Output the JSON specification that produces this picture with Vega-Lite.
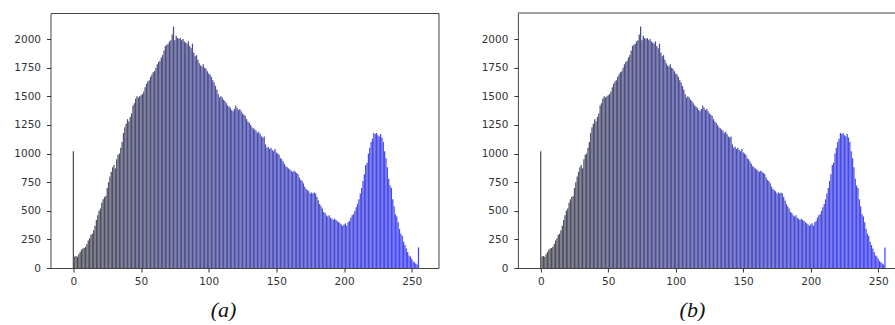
{
  "$schema": "https://vega.github.io/schema/vega-lite/v6.json",
  "padding": {"left": 12.5, "top": 12, "right": 0, "bottom": 0},
  "background": "white",
  "config": {
    "view": {"stroke": "#444", "strokeWidth": 1},
    "axis": {"grid": false, "domain": false, "format": "d", "labelOverlap": false, "tickColor": "#333", "tickSize": 4, "tickWidth": 1, "labelColor": "#333", "labelFont": "DejaVu Sans", "labelFontSize": 10.5, "titleFont": "Liberation Serif", "titleFontStyle": "italic", "titleFontWeight": "normal", "titleFontSize": 22, "titleColor": "#111"}
  },
  "datasets": {
    "hist": [
      {"level":0,"count":1020},{"level":1,"count":100},{"level":2,"count":105},{"level":3,"count":98},{"level":4,"count":120},{"level":5,"count":140},{"level":6,"count":160},{"level":7,"count":170},{"level":8,"count":175},{"level":9,"count":185},
      {"level":10,"count":210},{"level":11,"count":240},{"level":12,"count":260},{"level":13,"count":290},{"level":14,"count":300},{"level":15,"count":330},{"level":16,"count":370},{"level":17,"count":420},{"level":18,"count":460},{"level":19,"count":500},
      {"level":20,"count":520},{"level":21,"count":570},{"level":22,"count":600},{"level":23,"count":620},{"level":24,"count":630},{"level":25,"count":700},{"level":26,"count":750},{"level":27,"count":800},{"level":28,"count":840},{"level":29,"count":880},
      {"level":30,"count":900},{"level":31,"count":870},{"level":32,"count":950},{"level":33,"count":990},{"level":34,"count":1000},{"level":35,"count":1050},{"level":36,"count":1100},{"level":37,"count":1180},{"level":38,"count":1230},{"level":39,"count":1260},
      {"level":40,"count":1300},{"level":41,"count":1280},{"level":42,"count":1320},{"level":43,"count":1350},{"level":44,"count":1420},{"level":45,"count":1440},{"level":46,"count":1480},{"level":47,"count":1500},{"level":48,"count":1490},{"level":49,"count":1500},
      {"level":50,"count":1510},{"level":51,"count":1520},{"level":52,"count":1540},{"level":53,"count":1580},{"level":54,"count":1610},{"level":55,"count":1630},{"level":56,"count":1640},{"level":57,"count":1670},{"level":58,"count":1690},{"level":59,"count":1710},
      {"level":60,"count":1720},{"level":61,"count":1750},{"level":62,"count":1780},{"level":63,"count":1800},{"level":64,"count":1810},{"level":65,"count":1840},{"level":66,"count":1860},{"level":67,"count":1900},{"level":68,"count":1940},{"level":69,"count":1950},
      {"level":70,"count":1960},{"level":71,"count":1980},{"level":72,"count":1990},{"level":73,"count":2040},{"level":74,"count":2110},{"level":75,"count":1990},{"level":76,"count":2030},{"level":77,"count":2010},{"level":78,"count":2000},{"level":79,"count":2010},
      {"level":80,"count":1990},{"level":81,"count":2000},{"level":82,"count":1980},{"level":83,"count":1970},{"level":84,"count":1960},{"level":85,"count":1980},{"level":86,"count":1940},{"level":87,"count":1920},{"level":88,"count":1960},{"level":89,"count":1880},
      {"level":90,"count":1850},{"level":91,"count":1860},{"level":92,"count":1820},{"level":93,"count":1790},{"level":94,"count":1770},{"level":95,"count":1760},{"level":96,"count":1780},{"level":97,"count":1750},{"level":98,"count":1740},{"level":99,"count":1720},
      {"level":100,"count":1700},{"level":101,"count":1690},{"level":102,"count":1670},{"level":103,"count":1640},{"level":104,"count":1620},{"level":105,"count":1590},{"level":106,"count":1560},{"level":107,"count":1520},{"level":108,"count":1490},{"level":109,"count":1500},
      {"level":110,"count":1490},{"level":111,"count":1470},{"level":112,"count":1460},{"level":113,"count":1440},{"level":114,"count":1420},{"level":115,"count":1410},{"level":116,"count":1400},{"level":117,"count":1380},{"level":118,"count":1370},{"level":119,"count":1390},
      {"level":120,"count":1420},{"level":121,"count":1400},{"level":122,"count":1380},{"level":123,"count":1390},{"level":124,"count":1370},{"level":125,"count":1350},{"level":126,"count":1340},{"level":127,"count":1330},{"level":128,"count":1300},{"level":129,"count":1280},
      {"level":130,"count":1270},{"level":131,"count":1250},{"level":132,"count":1230},{"level":133,"count":1220},{"level":134,"count":1210},{"level":135,"count":1200},{"level":136,"count":1180},{"level":137,"count":1190},{"level":138,"count":1170},{"level":139,"count":1150},
      {"level":140,"count":1140},{"level":141,"count":1150},{"level":142,"count":1080},{"level":143,"count":1050},{"level":144,"count":1060},{"level":145,"count":1040},{"level":146,"count":1050},{"level":147,"count":1030},{"level":148,"count":1020},{"level":149,"count":1040},
      {"level":150,"count":1010},{"level":151,"count":1000},{"level":152,"count":990},{"level":153,"count":960},{"level":154,"count":950},{"level":155,"count":930},{"level":156,"count":910},{"level":157,"count":890},{"level":158,"count":880},{"level":159,"count":870},
      {"level":160,"count":860},{"level":161,"count":850},{"level":162,"count":840},{"level":163,"count":850},{"level":164,"count":840},{"level":165,"count":830},{"level":166,"count":820},{"level":167,"count":790},{"level":168,"count":770},{"level":169,"count":760},
      {"level":170,"count":740},{"level":171,"count":710},{"level":172,"count":690},{"level":173,"count":680},{"level":174,"count":670},{"level":175,"count":650},{"level":176,"count":660},{"level":177,"count":650},{"level":178,"count":660},{"level":179,"count":650},
      {"level":180,"count":620},{"level":181,"count":590},{"level":182,"count":560},{"level":183,"count":540},{"level":184,"count":520},{"level":185,"count":490},{"level":186,"count":480},{"level":187,"count":460},{"level":188,"count":450},{"level":189,"count":460},
      {"level":190,"count":440},{"level":191,"count":430},{"level":192,"count":420},{"level":193,"count":430},{"level":194,"count":420},{"level":195,"count":410},{"level":196,"count":400},{"level":197,"count":390},{"level":198,"count":380},{"level":199,"count":370},
      {"level":200,"count":380},{"level":201,"count":390},{"level":202,"count":370},{"level":203,"count":400},{"level":204,"count":410},{"level":205,"count":440},{"level":206,"count":460},{"level":207,"count":470},{"level":208,"count":500},{"level":209,"count":530},
      {"level":210,"count":560},{"level":211,"count":600},{"level":212,"count":650},{"level":213,"count":700},{"level":214,"count":760},{"level":215,"count":820},{"level":216,"count":900},{"level":217,"count":920},{"level":218,"count":1000},{"level":219,"count":1050},
      {"level":220,"count":1100},{"level":221,"count":1130},{"level":222,"count":1180},{"level":223,"count":1170},{"level":224,"count":1180},{"level":225,"count":1160},{"level":226,"count":1150},{"level":227,"count":1170},{"level":228,"count":1140},{"level":229,"count":1100},
      {"level":230,"count":1020},{"level":231,"count":960},{"level":232,"count":880},{"level":233,"count":780},{"level":234,"count":720},{"level":235,"count":700},{"level":236,"count":600},{"level":237,"count":540},{"level":238,"count":470},{"level":239,"count":450},
      {"level":240,"count":400},{"level":241,"count":340},{"level":242,"count":300},{"level":243,"count":280},{"level":244,"count":230},{"level":245,"count":200},{"level":246,"count":170},{"level":247,"count":140},{"level":248,"count":110},{"level":249,"count":100},
      {"level":250,"count":80},{"level":251,"count":60},{"level":252,"count":50},{"level":253,"count":40},{"level":254,"count":30},{"level":255,"count":180}
    ]
  },
  "hconcat": [
    {
      "width": 388,
      "height": 255,
      "data": {"name": "hist"},
      "mark": {"type": "bar", "size": 1.25},
      "encoding": {
        "x": {"field": "level", "type": "quantitative", "scale": {"domain": [-13.2, 266.1], "nice": false, "zero": false},
              "axis": {"values": [0, 50, 100, 150, 200, 250], "labelPadding": 4, "title": "(a)", "titleX": 172.5, "titleY": 48.5, "titleAlign": "center", "titleBaseline": "alphabetic"}},
        "y": {"field": "count", "type": "quantitative", "scale": {"domain": [0, 2228], "nice": false},
              "axis": {"values": [0, 250, 500, 750, 1000, 1250, 1500, 1750, 2000], "labelPadding": 6, "title": null}},
        "color": {"field": "level", "type": "quantitative", "scale": {"domain": [0, 255], "range": ["#4e4e56", "#4646ff"]}, "legend": null}
      }
    },
    {
      "width": 378,
      "height": 255,
      "view": {"stroke": null},
      "layer": [
        {
          "data": {"name": "hist"},
          "mark": {"type": "bar", "size": 1.25},
          "encoding": {
            "x": {"field": "level", "type": "quantitative", "scale": {"domain": [-13.2, 259.4], "nice": false, "zero": false},
                  "axis": {"values": [0, 50, 100, 150, 200, 250], "labelPadding": 4, "labelOverlap": false, "domain": true, "domainColor": "#444", "title": "(b)", "titleX": 174, "titleY": 48.5, "titleAlign": "center", "titleBaseline": "alphabetic"}},
            "y": {"field": "count", "type": "quantitative", "scale": {"domain": [0, 2228], "nice": false},
                  "axis": {"values": [0, 250, 500, 750, 1000, 1250, 1500, 1750, 2000], "labelPadding": 6, "labelOverlap": false, "domain": true, "domainColor": "#444", "title": null}},
            "color": {"field": "level", "type": "quantitative", "scale": {"domain": [0, 255], "range": ["#4e4e56", "#4646ff"]}, "legend": null}
          }
        },
        {
          "data": {"values": [{"top": 2228}]},
          "mark": {"type": "rule", "color": "#444", "strokeWidth": 1},
          "encoding": {"y": {"field": "top", "type": "quantitative", "scale": {"domain": [0, 2228], "nice": false},
                  "axis": {"values": [0, 250, 500, 750, 1000, 1250, 1500, 1750, 2000], "labelPadding": 6, "labelOverlap": false, "domain": true, "domainColor": "#444", "title": null}}}
        }
      ]
    }
  ],
  "spacing": 79.4,
  "bounds": "flush",
  "resolve": {"scale": {"x": "independent", "y": "independent"}}
}
